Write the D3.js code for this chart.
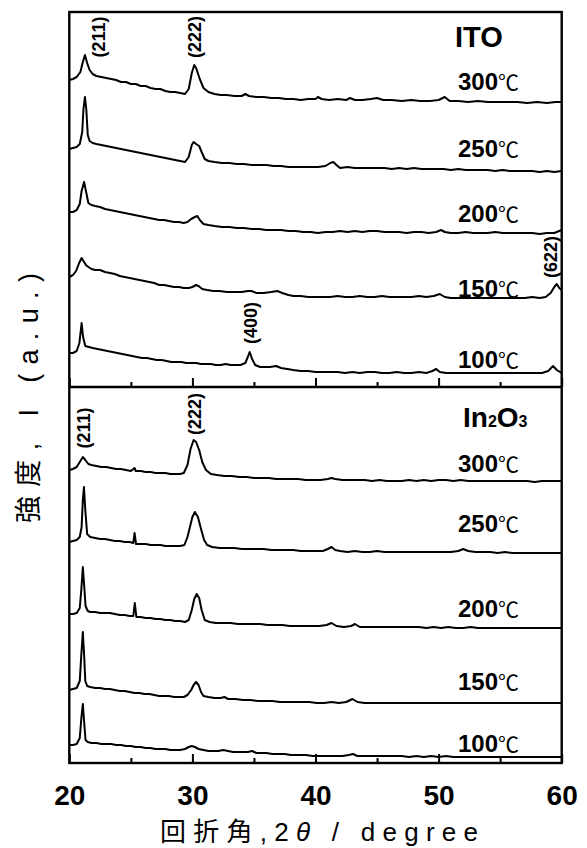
<!DOCTYPE html>
<html>
<head>
<meta charset="utf-8">
<script src="https://cdn.jsdelivr.net/npm/d3@7"></script>
<style>
  html, body { margin: 0; padding: 0; background: #fff; }
  svg { display: block; }
</style>
</head>
<body>
<svg id="chart" width="587" height="848"></svg>
<script>
// ---- axis ticks (2θ, degree) ----
const majorTicks = [20, 30, 40, 50, 60];
const minorTicks = [25, 35, 45, 55];

// ---- annealing temperatures, top trace first ----
const temperatures = ["300", "250", "200", "150", "100"];

// ---- ITO films: [2θ (deg), intensity (a.u.)] ----
const ito300 = [[20.0,27],[20.3,28],[20.6,30],[20.9,35],[21.1,45],[21.27,52],[21.45,44],[21.65,37],[21.9,33],[22.2,31],[22.6,30],[23.0,29],[23.4,28],[23.8,27],[24.2,25],[24.6,25],[25.0,23],[25.4,23],[25.8,21],[26.2,21],[26.6,19],[27.0,18],[27.4,18],[27.8,16],[28.2,15],[28.6,15],[29.0,14],[29.4,13],[29.7,18],[29.95,34],[30.15,42],[30.3,39],[30.6,28],[30.9,19],[31.3,15],[31.8,13],[32.3,12],[32.8,12],[33.4,11],[34.0,11],[34.3,13],[34.6,11],[35.2,10],[35.8,10],[36.4,9],[37.0,9],[37.6,8],[38.2,8],[38.8,7],[39.4,8],[40.0,8],[40.2,10],[40.5,8],[41.1,7],[41.8,8],[42.5,7],[42.8,9],[43.2,7],[43.8,7],[44.5,8],[45.0,9],[45.5,7],[46.2,7],[47.0,6],[47.8,7],[48.5,6],[49.3,6],[50.0,7],[50.5,10],[50.9,6],[51.6,6],[52.4,5],[53.2,6],[54.0,5],[54.8,5],[55.6,5],[56.4,5],[57.2,4],[58.0,5],[58.8,4],[59.5,5],[60.0,5]];
const ito250 = [[20.0,28],[20.3,29],[20.6,30],[20.85,33],[21.05,45],[21.15,68],[21.27,80],[21.38,68],[21.5,42],[21.65,36],[21.9,34],[22.2,33],[22.6,32],[23.0,31],[23.4,30],[23.8,29],[24.2,28],[24.6,27],[25.0,26],[25.4,25],[25.8,24],[26.2,23],[26.6,22],[27.0,21],[27.4,20],[27.8,19],[28.2,18],[28.6,17],[29.0,16],[29.4,15],[29.7,20],[29.95,32],[30.1,35],[30.3,33],[30.55,31],[30.75,25],[31.0,18],[31.3,16],[31.8,15],[32.4,14],[33.0,14],[33.6,13],[34.2,13],[34.8,12],[35.4,12],[36.0,12],[36.6,11],[37.2,11],[37.8,10],[38.4,10],[39.0,10],[39.6,10],[40.2,10],[40.8,11],[41.2,14],[41.45,15],[41.7,12],[42.0,9],[42.6,10],[43.2,9],[43.8,9],[44.4,9],[45.0,9],[45.6,9],[46.2,8],[46.8,9],[47.4,8],[48.0,9],[48.6,8],[49.2,8],[49.8,8],[50.4,8],[51.0,7],[51.6,8],[52.2,7],[52.8,7],[53.4,7],[54.0,7],[54.6,6],[55.2,7],[55.8,6],[56.4,6],[57.0,6],[57.6,6],[58.2,5],[58.8,6],[59.4,5],[60.0,6]];
const ito200 = [[20.0,27],[20.3,27],[20.6,29],[20.85,35],[21.0,48],[21.2,57],[21.35,48],[21.55,36],[21.8,34],[22.1,33],[22.5,32],[22.9,30],[23.3,29],[23.7,28],[24.1,27],[24.5,26],[24.9,25],[25.3,24],[25.7,23],[26.1,22],[26.5,21],[26.9,20],[27.3,19],[27.7,19],[28.1,18],[28.5,17],[28.9,17],[29.3,16],[29.6,17],[29.9,20],[30.2,22],[30.4,23],[30.6,19],[30.9,15],[31.3,14],[31.8,13],[32.4,12],[33.0,12],[33.6,11],[34.2,11],[34.8,10],[35.4,10],[36.0,9],[36.6,9],[37.2,9],[37.8,8],[38.4,8],[39.0,7],[39.6,7],[40.2,6],[40.8,7],[41.4,7],[42.0,8],[42.6,7],[43.2,8],[43.8,7],[44.4,8],[45.0,8],[45.6,7],[46.2,7],[46.8,7],[47.4,6],[48.0,7],[48.6,7],[49.2,6],[49.8,7],[50.2,9],[50.5,7],[51.0,6],[51.6,6],[52.2,7],[52.8,6],[53.4,6],[54.0,6],[54.6,7],[55.2,6],[55.8,6],[56.4,6],[57.0,6],[57.6,6],[58.2,5],[58.8,6],[59.4,6],[59.8,8],[60.0,9]];
const ito150 = [[20.0,26],[20.3,28],[20.55,32],[20.8,40],[21.0,45],[21.15,42],[21.35,38],[21.55,36],[21.8,34],[22.1,33],[22.5,33],[22.9,31],[23.3,30],[23.7,29],[24.1,27],[24.5,26],[24.9,25],[25.3,24],[25.7,23],[26.1,22],[26.5,21],[26.9,20],[27.3,18],[27.7,18],[28.1,17],[28.5,16],[28.9,16],[29.3,15],[29.7,15],[30.0,16],[30.3,18],[30.5,17],[30.8,14],[31.2,13],[31.7,12],[32.2,12],[32.8,11],[33.4,11],[34.0,11],[34.5,12],[34.8,12],[35.2,10],[35.8,10],[36.4,11],[36.9,12],[37.3,10],[37.8,8],[38.2,7],[38.8,7],[39.4,6],[40.0,6],[40.6,6],[41.2,6],[41.8,7],[42.4,6],[43.0,6],[43.6,7],[44.2,6],[44.8,6],[45.4,7],[46.0,6],[46.6,6],[47.2,6],[47.8,6],[48.4,7],[49.0,6],[49.6,7],[50.1,9],[50.5,6],[51.0,5],[51.6,5],[52.2,5],[52.8,5],[53.4,5],[54.0,5],[54.6,5],[55.2,5],[55.8,5],[56.4,5],[57.0,5],[57.6,6],[58.2,5],[58.7,6],[59.1,10],[59.4,16],[59.6,19],[59.8,15],[60.0,13]];
const ito100 = [[20.0,26],[20.3,26],[20.6,28],[20.82,36],[21.0,56],[21.12,42],[21.3,33],[21.6,32],[21.9,31],[22.3,30],[22.7,29],[23.1,28],[23.5,27],[23.9,26],[24.3,25],[24.7,24],[25.1,23],[25.5,22],[25.9,21],[26.3,21],[26.7,20],[27.1,19],[27.5,19],[27.9,18],[28.3,17],[28.7,17],[29.1,17],[29.5,16],[29.9,16],[30.3,16],[30.7,15],[31.1,15],[31.5,15],[31.9,14],[32.3,14],[32.7,15],[33.1,14],[33.5,14],[33.9,14],[34.3,16],[34.5,22],[34.65,27],[34.85,20],[35.1,14],[35.5,12],[35.9,12],[36.3,12],[36.8,13],[37.2,11],[37.7,10],[38.2,9],[38.8,8],[39.4,8],[40.0,7],[40.6,7],[41.2,7],[41.8,7],[42.4,6],[43.0,7],[43.6,6],[44.2,7],[44.8,7],[45.4,6],[46.0,6],[46.6,7],[47.2,6],[47.8,6],[48.4,7],[49.0,6],[49.5,8],[49.8,10],[50.1,7],[50.6,6],[51.2,6],[51.8,6],[52.4,6],[53.0,6],[53.6,6],[54.2,6],[54.8,6],[55.4,6],[56.0,6],[56.6,6],[57.2,6],[57.8,6],[58.4,6],[58.9,8],[59.3,13],[59.6,9],[60.0,6]];

// ---- In2O3 films: [2θ (deg), intensity (a.u.)] ----
const ino300 = [[20.0,17],[20.3,18],[20.6,20],[20.85,25],[21.1,30],[21.3,27],[21.55,23],[21.8,22],[22.2,21],[22.6,20],[23.0,20],[23.4,19],[23.8,18],[24.2,18],[24.6,17],[25.0,16],[25.3,19],[25.4,16],[25.8,16],[26.2,15],[26.6,15],[27.0,14],[27.4,14],[27.8,14],[28.2,13],[28.6,13],[29.0,13],[29.3,14],[29.6,22],[29.85,38],[30.1,47],[30.3,45],[30.55,37],[30.8,25],[31.1,17],[31.5,13],[32.0,12],[32.6,11],[33.2,11],[33.8,10],[34.4,10],[35.0,9],[35.6,9],[36.2,9],[36.8,8],[37.4,8],[38.0,8],[38.6,8],[39.2,7],[39.8,7],[40.4,7],[41.0,8],[41.3,9],[41.6,8],[42.2,7],[42.8,7],[43.4,7],[44.0,7],[44.6,6],[45.2,7],[45.8,6],[46.4,6],[47.0,6],[47.6,7],[48.2,6],[48.8,7],[49.4,6],[50.0,7],[50.6,7],[51.2,6],[51.8,7],[52.4,6],[53.0,6],[53.6,6],[54.2,6],[54.8,6],[55.4,6],[56.0,6],[56.6,6],[57.2,6],[57.8,5],[58.4,6],[59.0,6],[59.6,6],[60.0,6]];
const ino250 = [[20.0,17],[20.3,18],[20.6,19],[20.85,22],[21.0,32],[21.1,59],[21.19,72],[21.3,49],[21.45,25],[21.7,22],[22.1,21],[22.5,20],[22.9,20],[23.3,19],[23.7,18],[24.1,18],[24.5,17],[24.9,17],[25.2,16],[25.3,26],[25.42,15],[25.8,15],[26.2,15],[26.6,14],[27.0,14],[27.4,14],[27.8,13],[28.2,13],[28.6,13],[29.0,13],[29.35,14],[29.6,22],[29.8,32],[30.0,42],[30.2,47],[30.45,42],[30.7,30],[30.95,19],[31.2,14],[31.6,12],[32.2,11],[32.8,11],[33.4,11],[34.0,10],[34.6,10],[35.2,10],[35.8,10],[36.4,9],[37.0,9],[37.6,9],[38.2,9],[38.8,8],[39.4,8],[40.0,8],[40.6,8],[41.0,10],[41.3,12],[41.6,9],[42.0,8],[42.6,7],[43.2,8],[43.8,7],[44.4,7],[45.0,8],[45.6,7],[46.2,7],[46.8,7],[47.4,7],[48.0,7],[48.6,7],[49.2,7],[49.8,7],[50.4,7],[51.0,7],[51.6,8],[52.0,10],[52.4,8],[53.0,7],[53.6,7],[54.2,7],[54.8,6],[55.4,7],[56.0,6],[56.6,6],[57.2,6],[57.8,6],[58.4,6],[59.0,6],[59.6,6],[60.0,6]];
const ino200 = [[20.0,20],[20.3,20],[20.6,21],[20.85,26],[20.98,45],[21.1,67],[21.2,50],[21.32,28],[21.5,23],[21.7,22],[22.1,22],[22.5,21],[22.9,21],[23.3,21],[23.7,20],[24.1,19],[24.5,19],[24.9,18],[25.2,18],[25.32,31],[25.45,17],[25.8,17],[26.2,16],[26.6,16],[27.0,15],[27.4,15],[27.8,14],[28.2,14],[28.6,13],[29.0,13],[29.4,12],[29.7,14],[29.95,24],[30.15,35],[30.35,40],[30.55,36],[30.75,24],[31.0,14],[31.4,12],[31.9,11],[32.5,11],[33.1,11],[33.7,10],[34.3,10],[34.9,10],[35.5,10],[36.1,9],[36.7,9],[37.3,9],[37.9,8],[38.5,8],[39.1,8],[39.7,8],[40.3,8],[40.9,9],[41.3,11],[41.7,8],[42.3,7],[42.9,8],[43.2,10],[43.6,7],[44.2,7],[44.8,7],[45.4,7],[46.0,7],[46.6,7],[47.2,7],[47.8,7],[48.4,7],[49.0,6],[49.6,7],[50.2,6],[50.8,7],[51.4,6],[52.0,6],[52.6,7],[53.2,6],[53.8,6],[54.4,6],[55.0,6],[55.6,6],[56.2,6],[56.8,6],[57.4,6],[58.0,6],[58.6,6],[59.2,6],[60.0,6]];
const ino150 = [[20.0,19],[20.3,20],[20.6,21],[20.85,28],[20.98,55],[21.1,77],[21.2,55],[21.3,28],[21.45,23],[21.7,22],[22.1,21],[22.5,21],[22.9,20],[23.3,20],[23.7,19],[24.1,18],[24.5,18],[24.9,17],[25.3,16],[25.7,16],[26.1,15],[26.5,15],[26.9,14],[27.3,13],[27.7,13],[28.1,13],[28.5,12],[28.9,12],[29.3,12],[29.6,14],[29.9,19],[30.1,24],[30.3,27],[30.5,24],[30.7,17],[30.9,13],[31.3,12],[31.8,11],[32.3,11],[32.6,12],[32.9,10],[33.5,10],[34.1,9],[34.7,9],[35.3,8],[35.9,8],[36.5,8],[37.1,7],[37.7,7],[38.3,7],[38.9,7],[39.5,7],[40.1,6],[40.7,6],[41.3,7],[41.9,6],[42.5,7],[43.0,10],[43.4,7],[44.0,6],[44.6,6],[45.2,6],[45.8,6],[46.4,6],[47.0,6],[47.6,6],[48.2,6],[48.8,6],[49.4,6],[50.0,6],[50.6,6],[51.2,6],[51.8,6],[52.4,6],[53.0,6],[53.6,6],[54.2,6],[54.8,6],[55.4,6],[56.0,6],[56.6,6],[57.2,6],[57.8,6],[58.4,6],[59.0,6],[59.6,6],[60.0,6]];
const ino100 = [[20.0,18],[20.3,18],[20.6,19],[20.85,25],[20.98,45],[21.1,59],[21.2,42],[21.32,23],[21.5,21],[21.8,20],[22.2,20],[22.6,19],[23.0,19],[23.4,19],[23.8,18],[24.2,18],[24.6,17],[25.0,17],[25.4,16],[25.8,16],[26.2,15],[26.6,15],[27.0,14],[27.4,14],[27.8,14],[28.2,13],[28.6,13],[29.0,13],[29.4,14],[29.7,16],[29.95,17],[30.2,16],[30.5,14],[30.9,13],[31.3,12],[31.7,12],[32.1,12],[32.5,13],[32.9,12],[33.3,11],[33.7,11],[34.1,11],[34.5,11],[34.85,12],[35.2,10],[35.6,10],[36.0,10],[36.5,9],[37.0,9],[37.5,9],[38.0,8],[38.6,8],[39.2,8],[39.8,7],[40.4,7],[41.0,7],[41.6,7],[42.2,7],[42.7,8],[43.05,9],[43.4,7],[44.0,7],[44.6,7],[45.2,7],[45.8,7],[46.4,7],[47.0,7],[47.6,6],[48.2,7],[48.8,6],[49.4,7],[50.0,6],[50.6,7],[51.2,6],[51.8,6],[52.4,6],[53.0,6],[53.6,6],[54.2,6],[54.8,6],[55.4,6],[56.0,6],[56.6,6],[57.2,6],[57.8,6],[58.4,6],[59.0,6],[59.6,6],[60.0,6]];

// vertical stacking offsets (a.u.), top trace first
const itoOffsets = [280, 210, 148, 84, 8];
const inoOffsets = [276, 204, 129, 54, 0];

// reflection indices and the 2θ where each label sits
const itoPeakLabels = [["(211)", 22.45], ["(222)", 30.2], ["(400)", 34.8], ["(622)", 59.1]];
const inoPeakLabels = [["(211)", 21.23], ["(222)", 30.2]];

// ---------------- layout ----------------
const frame = { left: 69.3, right: 561.7, top: 12, mid: 387, bottom: 763 };
const svg = d3.select("#chart");
const latin = "'Liberation Sans', Arial, Helvetica, sans-serif";
const cjk = "'Noto Sans CJK JP', 'Noto Sans CJK SC', sans-serif";
const mixed = "'Liberation Sans', 'Noto Sans CJK JP', sans-serif";

const x = d3.scaleLinear().domain([20, 60]).range([frame.left, frame.right]);
const yTop = d3.scaleLinear().domain([0, 375]).range([frame.mid, frame.top]);
const yBot = d3.scaleLinear().domain([0, 376]).range([frame.bottom, frame.mid]);

const panels = [
  { name: "ITO", y: yTop, traces: [ito300, ito250, ito200, ito150, ito100], offsets: itoOffsets,
    tempBaselines: [90, 157, 222, 297, 368], peaks: itoPeakLabels, peakCenters: [37, 37, 323, 257],
    axisY: frame.mid },
  { name: "In2O3", y: yBot, traces: [ino300, ino250, ino200, ino150, ino100], offsets: inoOffsets,
    tempBaselines: [472, 532, 617, 690, 752], peaks: inoPeakLabels, peakCenters: [428, 414],
    axisY: frame.bottom }
];

svg.append("defs").append("clipPath").attr("id", "plot-clip")
  .append("rect")
  .attr("x", frame.left).attr("y", frame.top)
  .attr("width", frame.right - frame.left).attr("height", frame.bottom - frame.top);

const traceLayer = svg.append("g").attr("clip-path", "url(#plot-clip)");

panels.forEach(p => {
  p.traces.forEach((trace, i) => {
    const line = d3.line()
      .x(d => x(d[0]))
      .y(d => p.y(d[1] + p.offsets[i]));
    traceLayer.append("path")
      .datum(trace)
      .attr("d", line)
      .attr("fill", "none")
      .attr("stroke", "#000")
      .attr("stroke-width", 2)
      .attr("stroke-linejoin", "round");
  });

  // inward ticks on the panel's lower axis
  const major = svg.append("g").attr("transform", `translate(0,${p.axisY})`)
    .call(d3.axisBottom(x).tickValues(majorTicks).tickSize(-9).tickFormat(""));
  const minor = svg.append("g").attr("transform", `translate(0,${p.axisY})`)
    .call(d3.axisBottom(x).tickValues(minorTicks).tickSize(-5).tickFormat(""));
  [major, minor].forEach(g => {
    g.select(".domain").remove();
    g.selectAll("line").attr("stroke", "#000").attr("stroke-width", 2);
  });

  // temperature labels
  temperatures.forEach((t, i) => {
    const txt = svg.append("text")
      .attr("x", 519).attr("y", p.tempBaselines[i])
      .attr("text-anchor", "end");
    txt.append("tspan").text(t)
      .attr("font-family", latin).attr("font-weight", "bold").attr("font-size", 24);
    txt.append("tspan").text("℃")
      .attr("font-family", cjk).attr("font-size", 21);
  });

  // reflection labels, written upward
  p.peaks.forEach((pk, i) => {
    svg.append("text")
      .attr("transform", `translate(${x(pk[1])},${p.peakCenters[i]}) rotate(-90)`)
      .attr("text-anchor", "middle")
      .attr("dominant-baseline", "central")
      .attr("font-family", latin).attr("font-weight", "bold").attr("font-size", 18)
      .text(pk[0]);
  });
});

// panel titles
svg.append("text").attr("x", 455).attr("y", 47)
  .attr("font-family", latin).attr("font-weight", "bold").attr("font-size", 29)
  .text("ITO");
const ino = svg.append("text").attr("x", 463).attr("y", 427)
  .attr("font-family", latin).attr("font-weight", "bold").attr("font-size", 28);
ino.append("tspan").text("In");
ino.append("tspan").text("2").attr("font-size", 16);
ino.append("tspan").text("O");
ino.append("tspan").text("3").attr("font-size", 16);

// frame and panel divider
svg.append("rect")
  .attr("x", frame.left).attr("y", frame.top)
  .attr("width", frame.right - frame.left).attr("height", frame.bottom - frame.top)
  .attr("fill", "none").attr("stroke", "#000").attr("stroke-width", 2.4);
svg.append("line")
  .attr("x1", frame.left).attr("x2", frame.right)
  .attr("y1", frame.mid).attr("y2", frame.mid)
  .attr("stroke", "#000").attr("stroke-width", 2.4);

// 2θ tick labels
const labels = svg.append("g").attr("transform", `translate(0,${frame.bottom})`)
  .call(d3.axisBottom(x).tickValues(majorTicks).tickSize(0).tickPadding(0).tickFormat(d3.format("d")));
labels.select(".domain").remove();
labels.selectAll("text")
  .attr("y", 42).attr("dy", null)
  .attr("fill", "#000")
  .attr("font-family", latin).attr("font-weight", "bold").attr("font-size", 28);

// axis titles
const xt = svg.append("text").attr("x", 160).attr("y", 841)
  .attr("font-size", 26).attr("font-family", mixed)
  .attr("textLength", 318).attr("lengthAdjust", "spacing");
xt.append("tspan").text("回折角,2");
xt.append("tspan").text("θ").attr("font-style", "italic");
xt.append("tspan").text(" / degree");

svg.append("text")
  .attr("transform", "translate(38,398) rotate(-90)")
  .attr("text-anchor", "middle")
  .attr("font-size", 27).attr("font-family", mixed)
  .attr("textLength", 250).attr("lengthAdjust", "spacing")
  .text("強度, I (a.u.)");
</script>
</body>
</html>
